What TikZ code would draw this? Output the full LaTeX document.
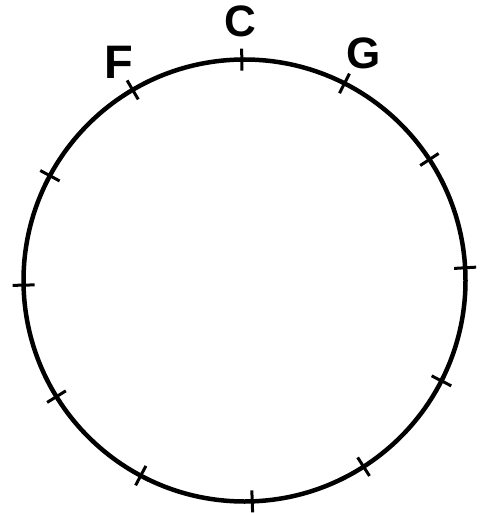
\documentclass[tikz,border=0pt]{standalone}
\usepackage{fontspec}
\setmainfont{Liberation Sans}
\begin{document}
\begin{tikzpicture}[x=1pt,y=-1pt,
  ring/.style={line width=4.5pt,black},
  tickmark/.style={line width=3pt,black},
  note/.style={inner sep=0pt,font=\fontsize{44}{44}\selectfont\bfseries}]
\useasboundingbox (0,0) rectangle (479,513);
\def\cx{244.5}\def\cy{280.5}\def\rr{221}
\draw[ring] (\cx,\cy) circle[radius=\rr];
\foreach \a in {90.7,63.1,33.2,3.3,-27,-57.4,-88,-118,-148.3,-178.8,151.7,120.4}{
  \draw[tickmark] ({\cx+(\rr-11)*cos(\a)},{\cy-(\rr-11)*sin(\a)}) -- ({\cx+(\rr+11)*cos(\a)},{\cy-(\rr+11)*sin(\a)});
}
\node[note] (C) at (240,21.7) {C};
\node[note,font=\fontsize{47}{47}\selectfont\bfseries] (F) at (118.9,62.8) {F};
\node[note] (G) at (364,53.3) {G};
\end{tikzpicture}
\end{document}
